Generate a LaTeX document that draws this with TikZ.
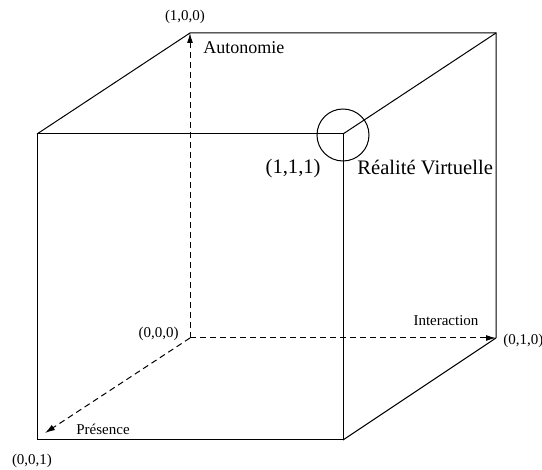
\documentclass[tikz,border=0pt]{standalone}
\usepackage{fontspec}
\setmainfont{Liberation Serif}
\usetikzlibrary{positioning, arrows.meta}

\begin{document}
\begin{tikzpicture}[
  x=0.5pt, y=-0.5pt,
  >={Latex[length=5pt, width=3pt]},
  edge/.style={line width=0.5pt},
  axis/.style={->, line width=0.5pt, dash pattern=on 3pt off 2pt},
  small/.style={font=\fontsize{7.5}{9}\selectfont, inner sep=0pt},
  mid/.style={font=\fontsize{9}{11}\selectfont, inner sep=0pt},
  big/.style={font=\fontsize{10.3}{12}\selectfont, inner sep=0pt},
]
\useasboundingbox (0,0) rectangle (542,470);
% ---- corners ----
\coordinate (o)  at (190,338);  % (0,0,0)
\coordinate (a)  at (190,33);   % (1,0,0)
\coordinate (i)  at (496,338);  % (0,1,0)
\coordinate (p)  at (37,440);   % (0,0,1)
\coordinate (ai) at (496,33);
\coordinate (ap) at (37,134);
\coordinate (ip) at (343,440);
\coordinate (vr) at (343,134);  % (1,1,1)
\coordinate (ptip) at (45,433);
% ---- cube ----
\draw[edge] (ap) -- (p) -- (ip) -- (vr) -- cycle;
\draw[edge] (ap) -- (a) -- (ai) -- (i);
\draw[edge] (vr) -- (ai);
\draw[edge] (ip) -- (i);
% ---- axes ----
\draw[axis] (o) -- (a);
\draw[axis] (o) -- (i);
\draw[axis] (o) -- (ptip);
% ---- highlight ----
\node[draw, circle, line width=0.5pt, minimum size=26pt, inner sep=0pt] (ring) at (343,135) {};
% ---- labels ----
\node[small] (l100) at (185,17) {(1,0,0)};
\node[mid, anchor=west] (auto) at (203,48) {Autonomie};
\node[big, anchor=east] (l111) at (321,169) {(1,1,1)};
\node[big, anchor=west] (rv) at (357,167) {Réalité Virtuelle};
\node[small, anchor=east] (l000) at (179,334) {(0,0,0)};
\node[small] (inter) at (446,321) {Interaction};
\node[small, anchor=west] (l010) at (503,341) {(0,1,0)};
\node[small, anchor=west] (pres) at (76,429) {Présence};
\node[small] (l001) at (32,461) {(0,0,1)};
\end{tikzpicture}
\end{document}
